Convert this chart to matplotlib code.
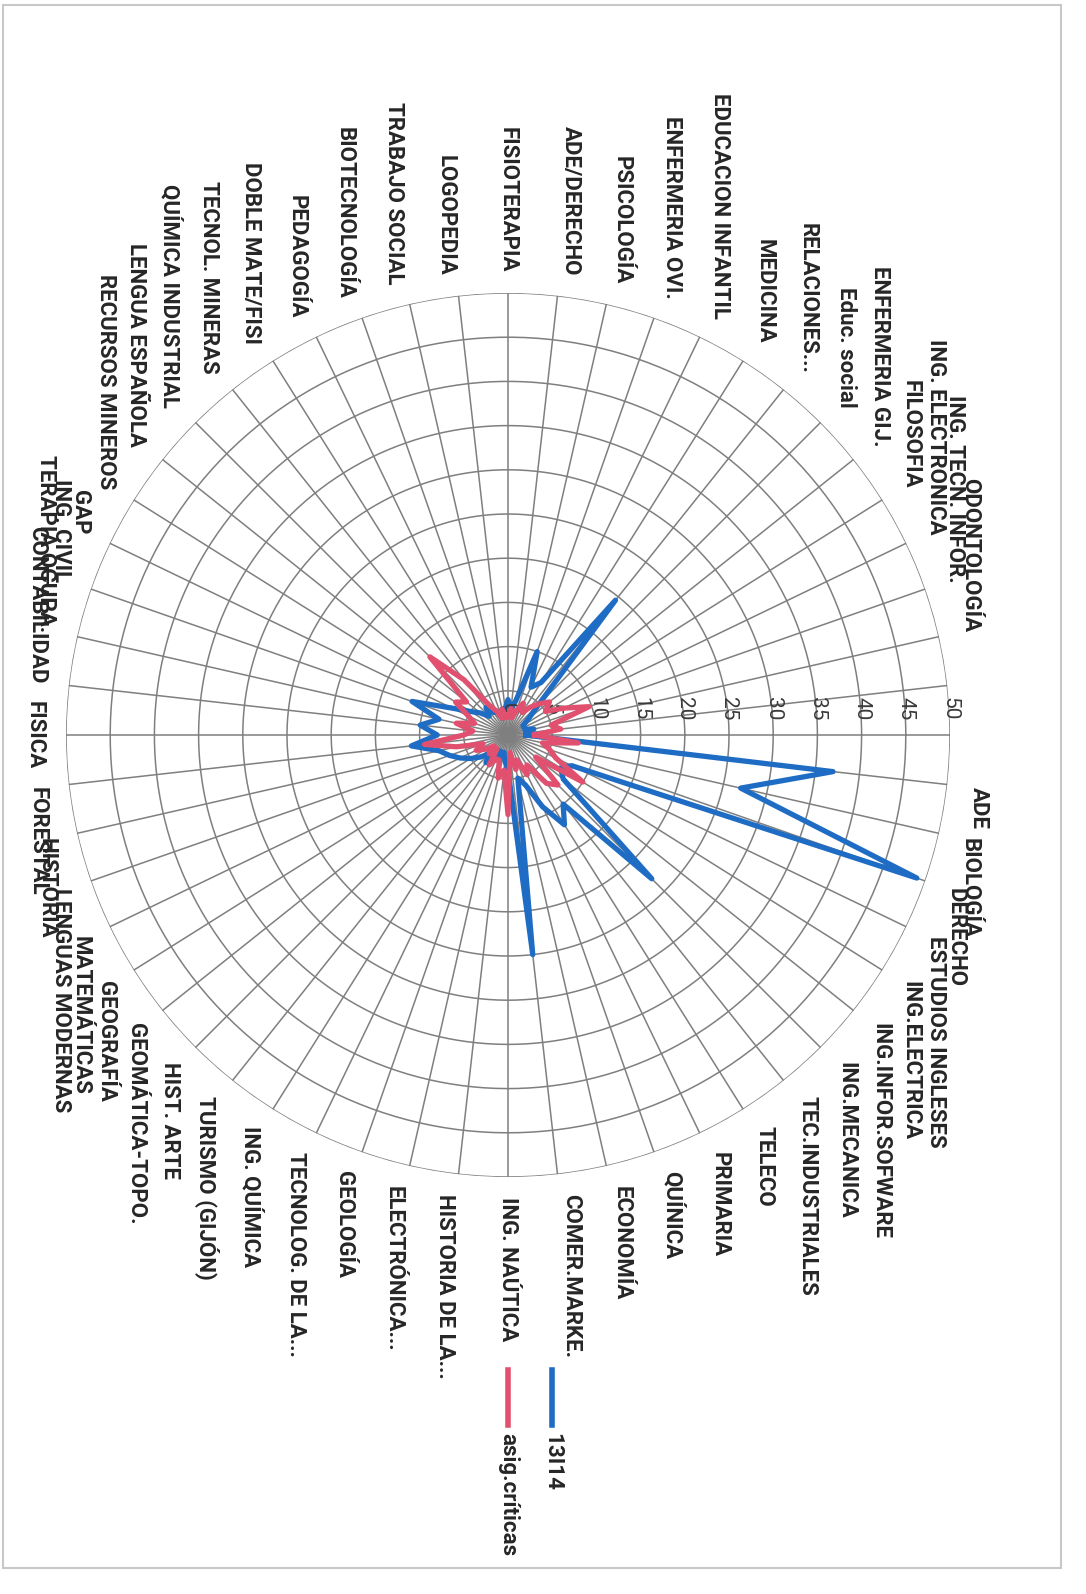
import numpy as np
import matplotlib.pyplot as plt
from matplotlib.lines import Line2D
from matplotlib.patches import Rectangle
import matplotlib.transforms as mtransforms

# Categorias (en el orden del radar, sentido horario desde la derecha)
categorias = [
    '', 'ADE', 'BIOLOGÍA', 'DERECHO', 'ESTUDIOS INGLESES', 'ING.ELECTRICA',
    'ING.INFOR.SOFWARE', 'ING.MECANICA', 'TEC.INDUSTRIALES', 'TELECO', 'PRIMARIA',
    'QUÍNICA', 'ECONOMÍA', 'COMER.MARKE.', 'ING. NAÚTICA', 'HISTORIA DE LA...',
    'ELECTRÓNICA...', 'GEOLOGÍA', 'TECNOLOG. DE LA...', 'ING. QUÍMICA',
    'TURISMO (GIJÓN)', 'HIST. ARTE', 'GEOMÁTICA-TOPO.', 'GEOGRAFÍA', 'MATEMÁTICAS',
    'LENGUAS MODERNAS', 'HISTORIA', 'FORESTAL', 'FISICA', 'CONTABILIDAD',
    'TERAPIA OCUPA.', 'ING. CIVIL', 'GAP', 'RECURSOS MINEROS', 'LENGUA ESPAÑOLA',
    'QUÍMICA INDUSTRIAL', 'TECNOL. MINERAS', 'DOBLE MATE/FISI', 'PEDAGOGÍA',
    'BIOTECNOLOGÍA', 'TRABAJO SOCIAL', 'LOGOPEDIA', 'FISIOTERAPIA', 'ADE/DERECHO',
    'PSICOLOGÍA', 'ENFERMERIA OVI.', 'EDUCACION INFANTIL', 'MEDICINA',
    'RELACIONES...', 'Educ. social', 'ENFERMERIA GIJ.', 'FILOSOFIA',
    'ING. ELECTRONICA', 'ING. TECN. INFOR.', 'ODONTOLOGÍA', '',
]

# Serie 13I14
serie_1314 = [
    2, 37, 27, 49, 8, 7, 8, 23, 10, 12, 9, 6, 5, 25, 4, 3, 2, 3, 2, 3,
    4, 3, 4, 5, 6, 7, 8, 11, 8, 10, 8, 11.5, 7, 5, 4, 3, 4, 3, 3, 2,
    3, 3, 4, 3, 4, 10, 6, 7, 19.5, 5, 3, 2, 2, 2, 3, 2,
]

# Serie asignaturas criticas
serie_criticas = [
    3, 8, 4, 5, 6, 10, 4, 8, 7, 4, 5, 3, 4, 2, 9, 4, 5, 3, 3, 4,
    2, 3, 2, 3, 4, 3, 6, 9.5, 5, 4, 6, 4, 5, 7, 6, 12.5, 8, 4, 3, 2,
    3, 2, 2, 3, 2, 3, 4, 3, 4, 5, 6, 5, 7, 9.7, 5, 6,
]

ticks_radiales = [0, 5, 10, 15, 20, 25, 30, 35, 40, 45, 50]

nombres_series = ['13I14', 'asig.críticas']
colores = ['#1f6cc4', '#e2506f']

fuente = ['Roboto', 'DejaVu Sans']

n = len(categorias)
angulos = np.linspace(0, 2 * np.pi, n, endpoint=False)

fig = plt.figure(figsize=(10.86, 15.94), dpi=100)
fig.patches.append(Rectangle((0.003, 0.016), 0.974, 0.981, transform=fig.transFigure,
                             fill=False, edgecolor='#c8c8c8', lw=1.5))

cx, cy, rad = 508 / 1086, 1 - 735 / 1594, 442
ax = fig.add_axes([cx - rad / 1086, cy - rad / 1594, 2 * rad / 1086, 2 * rad / 1594],
                  projection='polar')
ax.set_theta_zero_location('E')
ax.set_theta_direction(-1)
ax.set_ylim(0, 50)
ax.spines['polar'].set_visible(False)
ax.set_xticks([])
ax.set_yticks([])
ax.grid(False)

# Rejilla: circulos y radios
tt = np.linspace(0, 2 * np.pi, 400)
for r in ticks_radiales[1:]:
    ax.plot(tt, np.full_like(tt, r), color='#7f7f7f', lw=1.1, zorder=1)
for a in angulos:
    ax.plot([a, a], [0, 50], color='#7f7f7f', lw=1.1, zorder=1)

# Series
ang_c = np.append(angulos, angulos[0])
ax.plot(ang_c, np.append(serie_1314, serie_1314[0]), color=colores[0], lw=3.8, zorder=3)
ax.plot(ang_c, np.append(serie_criticas, serie_criticas[0]), color=colores[1], lw=3.8, zorder=4)

# Etiquetas de los valores del eje
off = mtransforms.offset_copy(ax.transData, fig=fig, x=0, y=26, units='dots')
for r in ticks_radiales:
    ax.text(0, r, str(r), transform=off, rotation=-90, ha='center', va='center',
            fontsize=15, color='#3a3a3a', family=fuente)

# Etiquetas de categorias
for a, nombre in zip(angulos, categorias):
    c, s = np.cos(a), np.sin(a)
    ha = 'left' if c > 0.05 else ('right' if c < -0.05 else 'center')
    va = 'top' if s > 0.05 else ('bottom' if s < -0.05 else 'center')
    ax.text(a, 52.3, nombre, rotation=-90, ha=ha, va=va, fontsize=16,
            fontweight='bold', color='#262626', family=fuente)

# Leyenda girada
for i, (nombre, col) in enumerate(zip(nombres_series, colores)):
    x = 552 - i * 44
    fig.add_artist(Line2D([x / 1086, x / 1086], [1 - 1370 / 1594, 1 - 1425 / 1594],
                          color=col, lw=4, transform=fig.transFigure))
    fig.text(x / 1086, 1 - 1433 / 1594, nombre, rotation=-90, ha='center', va='top',
             fontsize=16, fontweight='bold', color='#262626', family=fuente)

plt.savefig('out.png', dpi=100)
